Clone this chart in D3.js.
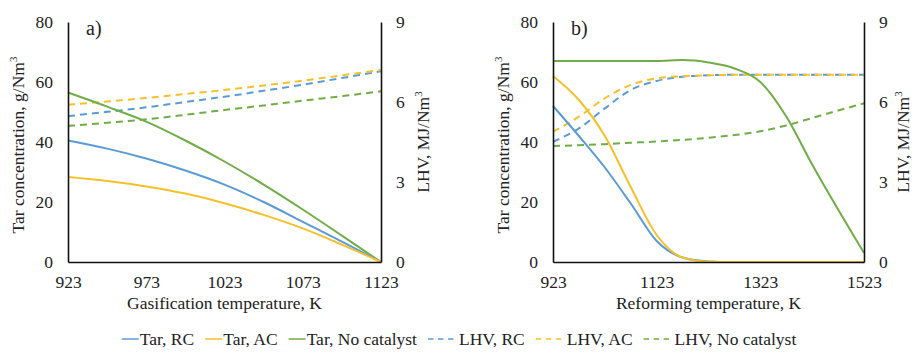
<!DOCTYPE html>
<html>
<head>
<meta charset="utf-8">
<script src="https://cdn.jsdelivr.net/npm/d3@7"></script>
<style>
  body { margin: 0; background: #fff; }
  svg text { font-family: "Liberation Serif", "Times New Roman", serif; fill: #222; }
</style>
</head>
<body>
<script>
// panel a: gasification temperature
var tempA = [923, 948, 973, 998, 1023, 1048, 1073, 1098, 1123];
var tarRC_a = [40.5, 37.8, 34.5, 30.5, 25.8, 20, 13.4, 6.8, 0];
var tarAC_a = [28.3, 27, 25.2, 22.8, 19.6, 15.7, 11.2, 5.8, 0];
var tarNo_a = [56.5, 51.8, 46.8, 40.5, 33.5, 25.8, 17.5, 8.8, 0];
var lhvRC_a = [5.47, 5.63, 5.8, 6.0, 6.2, 6.42, 6.65, 6.9, 7.15];
var lhvAC_a = [5.9, 6.02, 6.15, 6.3, 6.45, 6.62, 6.8, 7.0, 7.2];
var lhvNo_a = [5.1, 5.22, 5.35, 5.52, 5.7, 5.87, 6.05, 6.22, 6.4];

// panel b: reforming temperature
var tempB = [923, 973, 1023, 1073, 1123, 1173, 1223, 1273, 1323, 1373, 1423, 1473, 1523];
var tarRC_b = [52, 42, 31.5, 19.5, 7, 1.5, 0.2, 0, 0, 0, 0, 0, 0];
var tarAC_b = [62, 54, 42, 25, 9, 1.5, 0.1, 0, 0, 0, 0, 0, 0];
var tarNo_b = [67, 67, 67, 67, 67, 67.3, 66.5, 64.5, 60, 48.5, 32.5, 17.5, 3];
var lhvRC_b = [4.51, 5.01, 5.76, 6.45, 6.79, 6.95, 7.0, 7.02, 7.02, 7.02, 7.02, 7.02, 7.02];
var lhvAC_b = [4.89, 5.45, 6.14, 6.64, 6.89, 6.97, 7.0, 7.02, 7.02, 7.02, 7.02, 7.02, 7.02];
var lhvNo_b = [4.35, 4.38, 4.42, 4.47, 4.52, 4.58, 4.66, 4.76, 4.9, 5.12, 5.4, 5.68, 5.95];

var ticksA = [923, 973, 1023, 1073, 1123];
var ticksB = [923, 1123, 1323, 1523];
var tarTicks = [0, 20, 40, 60, 80];
var lhvTicks = [0, 3, 6, 9];

var blue = "#5b9bd5", gold = "#f5c02a", green = "#70ad47";
var serif = "'Liberation Serif', 'Times New Roman', serif";

var svg = d3.select("body").append("svg")
    .attr("width", 914)
    .attr("height", 354);

function panel(opt) {
  var x = d3.scaleLinear().domain(opt.xDomain).range([opt.left, opt.right]);
  var yT = d3.scaleLinear().domain([0, 80]).range([262, 22]);
  var yL = d3.scaleLinear().domain([0, 9]).range([262, 22]);

  var g = svg.append("g");

  var line = function(ys, scale) {
    return d3.line()
      .x(function(d, i) { return x(opt.temps[i]); })
      .y(function(d) { return scale(d); })
      .curve(d3.curveMonotoneX)(ys);
  };

  // dashed LHV lines
  [[opt.lhvNo, green], [opt.lhvRC, blue], [opt.lhvAC, gold]].forEach(function(s) {
    g.append("path").attr("d", line(s[0], yL))
      .attr("fill", "none").attr("stroke", s[1])
      .attr("stroke-width", 2).attr("stroke-dasharray", "7,5");
  });
  // solid tar lines
  [[opt.tarNo, green], [opt.tarRC, blue], [opt.tarAC, gold]].forEach(function(s) {
    g.append("path").attr("d", line(s[0], yT))
      .attr("fill", "none").attr("stroke", s[1])
      .attr("stroke-width", 2);
  });

  var ax = g.append("g").attr("transform", "translate(0,262)")
    .call(d3.axisBottom(x).tickValues(opt.ticks).tickSize(0).tickSizeOuter(0).tickPadding(14).tickFormat(d3.format("d")));
  var al = g.append("g").attr("transform", "translate(" + opt.left + ",0)")
    .call(d3.axisLeft(yT).tickValues(tarTicks).tickSize(0).tickSizeOuter(0).tickPadding(15));
  var ar = g.append("g").attr("transform", "translate(" + opt.right + ",0)")
    .call(d3.axisRight(yL).tickValues(lhvTicks).tickSize(0).tickSizeOuter(0).tickPadding(15));

  [ax, al, ar].forEach(function(a) {
    a.attr("font-family", null).attr("font-size", null);
    a.select(".domain").attr("stroke", "#111").attr("stroke-width", 1.6);
    a.selectAll("text").style("font-family", serif).style("font-size", "17.5px").attr("fill", "#222");
  });

  // axis titles
  g.append("text").attr("x", (opt.left + opt.right) / 2).attr("y", 309)
    .attr("text-anchor", "middle").style("font-size", "17.5px").text(opt.xTitle);

  var t1 = g.append("text")
    .attr("transform", "translate(" + opt.ltx + ",145) rotate(-90)")
    .attr("text-anchor", "middle").style("font-size", "17.5px");
  t1.append("tspan").text("Tar concentration, g/Nm");
  t1.append("tspan").style("font-size", "11px").attr("dy", -7).text("3");

  var t2 = g.append("text")
    .attr("transform", "translate(" + opt.rtx + ",142) rotate(-90)")
    .attr("text-anchor", "middle").style("font-size", "17.5px");
  t2.append("tspan").text("LHV, MJ/Nm");
  t2.append("tspan").style("font-size", "11px").attr("dy", -7).text("3");

  g.append("text").attr("x", opt.left + 18).attr("y", 35)
    .style("font-size", "20px").text(opt.label);
}

panel({
  xDomain: [923, 1123], left: 68, right: 381, temps: tempA, ticks: ticksA,
  tarRC: tarRC_a, tarAC: tarAC_a, tarNo: tarNo_a,
  lhvRC: lhvRC_a, lhvAC: lhvAC_a, lhvNo: lhvNo_a,
  xTitle: "Gasification temperature, K", ltx: 24, rtx: 429, label: "a)"
});
panel({
  xDomain: [923, 1523], left: 553, right: 864, temps: tempB, ticks: ticksB,
  tarRC: tarRC_b, tarAC: tarAC_b, tarNo: tarNo_b,
  lhvRC: lhvRC_b, lhvAC: lhvAC_b, lhvNo: lhvNo_b,
  xTitle: "Reforming temperature, K", ltx: 509, rtx: 909, label: "b)"
});

// legend
var legendItems = [
  { name: "Tar, RC", color: blue, dash: null },
  { name: "Tar, AC", color: gold, dash: null },
  { name: "Tar, No catalyst", color: green, dash: null },
  { name: "LHV, RC", color: blue, dash: "5.5,4.5" },
  { name: "LHV, AC", color: gold, dash: "5.5,4.5" },
  { name: "LHV, No catalyst", color: green, dash: "5.5,4.5" }
];

var leg = svg.append("g");
var cx = 0;
var gap = 11;
legendItems.forEach(function(it) {
  var w = it.dash ? 26 : 17;
  leg.append("line").attr("x1", cx).attr("x2", cx + w)
    .attr("y1", 0).attr("y2", 0)
    .attr("stroke", it.color).attr("stroke-width", 1.5)
    .attr("stroke-dasharray", it.dash);
  var t = leg.append("text").attr("x", cx + w + (it.dash ? 5 : 1)).attr("y", 6)
    .style("font-size", "17.5px").text(it.name);
  cx += w + (it.dash ? 5 : 1) + t.node().getComputedTextLength() + gap;
});
var lw = cx - gap;
leg.attr("transform", "translate(" + (459 - lw / 2) + ",339)");
</script>
</body>
</html>
